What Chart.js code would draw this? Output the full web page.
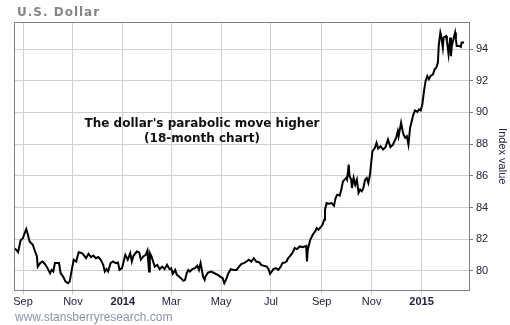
<!DOCTYPE html>
<html>
<head>
<meta charset="utf-8">
<script src="https://cdn.jsdelivr.net/npm/chart.js@4/dist/chart.umd.min.js"></script>
<style>
  html, body { margin: 0; padding: 0; background: #ffffff; }
  #wrap { width: 510px; height: 325px; position: relative; }
</style>
</head>
<body>
<div id="wrap"><canvas id="chart" width="510" height="325"></canvas></div>
<script>
// U.S. Dollar index, Aug 2013 - Feb 2015.
// Dates are stored as days counted from 1 Jan 2014.
const dayFromJan2014 = [
  -133, -131, -128, -125, -122, -120, -118, -116, -114, -110, -108, -105, -104, -101, -98, -95,
  -92, -89, -87, -85, -83, -78, -76, -73, -70, -67, -65, -62, -60, -57, -54, -50,
  -48, -45, -42, -39, -36, -33, -30, -27, -24, -22, -20, -18, -15, -12, -9, -6,
  -4, -1, 2, 3, 6, 9, 11, 13, 17, 20, 22, 25, 28, 30, 32, 33,
  35, 37, 39, 42, 45, 48, 51, 54, 57, 59, 61, 64, 66, 68, 71, 74,
  76, 78, 80, 82, 85, 88, 91, 93, 95, 98, 100, 101, 104, 108, 112, 116,
  119, 122, 124, 126, 129, 132, 135, 139, 142, 145, 148, 151, 154, 157, 160, 163,
  167, 169, 172, 176, 178, 180, 182, 184, 187, 190, 193, 195, 198, 200, 202, 204,
  207, 210, 213, 216, 220, 224, 225, 226, 229, 232, 235, 237, 239, 242, 244, 246,
  247, 249, 252, 255, 258, 260, 262, 265, 267, 269, 273, 274, 276, 277, 279, 280,
  282, 284, 286, 288, 290, 292, 294, 296, 298, 300, 302, 305, 308, 310, 312, 315,
  318, 321, 324, 327, 330, 334, 336, 337, 340, 342, 343, 345, 347, 349, 351, 353,
  355, 357, 360, 362, 364, 366, 368, 370, 372, 374, 376, 379, 381, 383, 385, 386,
  388, 389, 391, 392, 395, 396, 398, 400, 401, 402, 404, 406, 407, 408, 411, 413,
  414, 417
];

const indexValue = [
  81.44, 81.37, 81.18, 81.92, 82.07, 82.39, 82.64, 82.28, 81.85, 81.65, 81.33, 80.91, 80.27, 80.49, 80.59, 80.42,
  80.17, 79.85, 80.06, 79.96, 80.49, 80.49, 79.85, 79.64, 79.32, 79.22, 79.32, 80.17, 80.70, 80.59, 81.18, 81.12,
  81.01, 80.80, 81.08, 80.87, 80.97, 80.80, 80.87, 80.70, 80.38, 79.96, 80.11, 79.96, 80.49, 80.59, 80.49, 80.53,
  80.06, 80.17, 80.80, 81.01, 80.70, 81.12, 80.59, 80.95, 81.22, 81.16, 80.70, 80.91, 81.01, 81.27, 79.96, 81.12,
  80.91, 80.59, 80.27, 80.38, 80.11, 80.27, 80.11, 80.38, 80.11, 80.17, 79.81, 80.06, 79.75, 79.68, 79.54, 79.37,
  79.43, 79.85, 80.06, 79.96, 80.11, 80.17, 80.32, 80.06, 80.49, 79.64, 79.43, 79.64, 79.89, 79.96, 79.85, 79.75,
  79.64, 79.54, 79.22, 79.43, 79.85, 80.11, 80.06, 80.06, 80.27, 80.44, 80.49, 80.59, 80.70, 80.59, 80.80, 80.59,
  80.53, 80.38, 80.32, 80.27, 80.11, 79.81, 79.96, 80.11, 80.17, 80.06, 80.27, 80.49, 80.53, 80.59, 80.80, 80.91,
  81.12, 81.44, 81.37, 81.54, 81.50, 81.58, 80.59, 81.33, 81.96, 82.28, 82.49, 82.70, 82.59, 82.77, 82.91, 83.23,
  83.86, 84.28, 84.24, 84.28, 84.11, 84.60, 84.81, 84.75, 85.13, 85.65, 85.87, 85.76, 86.71, 85.97, 85.76, 85.23,
  85.87, 85.44, 85.76, 84.92, 85.13, 85.02, 85.23, 85.76, 85.87, 85.55, 86.08, 87.55, 87.77, 88.08, 87.72, 87.87,
  87.66, 87.81, 88.29, 87.81, 87.97, 88.40, 88.82, 88.50, 89.35, 88.82, 88.61, 88.40, 88.50, 87.97, 89.03, 89.45,
  89.87, 90.13, 90.04, 90.19, 90.13, 90.51, 91.35, 91.99, 92.30, 92.09, 92.30, 92.41, 92.72, 92.83, 93.15, 94.20,
  95.04, 94.83, 94.09, 94.73, 94.83, 94.51, 93.67, 94.73, 93.55, 94.20, 94.62, 95.04, 94.62, 94.20, 94.20, 94.14,
  94.41, 94.41
];

// Month ticks (first day of each month, days from 1 Jan 2014)
const monthTickDays = [-122, -61, 0, 59, 120, 181, 243, 304, 365];
const monthTickLabels = ['Sep', 'Nov', '2014', 'Mar', 'May', 'Jul', 'Sep', 'Nov', '2015'];
const yearLabels = ['2014', '2015'];

const valueTicks = [80, 82, 84, 86, 88, 90, 92, 94];

const chartTitle = 'U.S. Dollar';
const noteLines = ["The dollar's parabolic move higher", '(18-month chart)'];
const axisTitle = 'Index value';
const sourceText = 'www.stansberryresearch.com';

const points = dayFromJan2014.map((d, i) => ({ x: d, y: indexValue[i] }));

const labelColor = '#222240';
const gridColor = '#cfcfcf';
const frameColor = '#808080';

// Top/left frame lines, title, note and source line
const decorations = {
  id: 'decorations',
  afterDraw(chart) {
    const { ctx, chartArea } = chart;
    ctx.save();
    ctx.strokeStyle = frameColor;
    ctx.lineWidth = 1;
    ctx.beginPath();
    ctx.moveTo(chartArea.left + 0.5, chartArea.bottom);
    ctx.lineTo(chartArea.left + 0.5, chartArea.top + 0.5);
    ctx.lineTo(chartArea.right, chartArea.top + 0.5);
    ctx.stroke();

    ctx.fillStyle = '#858585';
    ctx.font = 'bold 12px "DejaVu Sans"';
    ctx.textAlign = 'left';
    ctx.textBaseline = 'alphabetic';
    ctx.letterSpacing = '1px';
    ctx.fillText(chartTitle, 17, 15.5);
    ctx.letterSpacing = '0px';

    ctx.fillStyle = '#111111';
    ctx.font = 'bold 12px "DejaVu Sans"';
    ctx.textAlign = 'center';
    ctx.fillText(noteLines[0], 202, 126.5);
    ctx.fillText(noteLines[1], 202, 142);

    ctx.fillStyle = '#8a94a6';
    ctx.font = '12px "Liberation Sans", Arial, sans-serif';
    ctx.textAlign = 'left';
    ctx.fillText(sourceText, 15, 320.5);
    ctx.restore();
  }
};

new Chart(document.getElementById('chart'), {
  type: 'line',
  data: {
    datasets: [{
      data: points,
      borderColor: '#000000',
      borderWidth: 2,
      pointRadius: 0,
      tension: 0,
      fill: false
    }]
  },
  options: {
    responsive: false,
    animation: false,
    devicePixelRatio: 1,
    layout: { padding: { left: 14, top: 22, right: 0, bottom: 0 } },
    plugins: {
      legend: { display: false },
      tooltip: { enabled: false },
      title: { display: false }
    },
    scales: {
      x: {
        type: 'linear',
        position: 'bottom',
        min: -133,
        max: 423,
        afterBuildTicks(scale) {
          scale.ticks = monthTickDays.map(v => ({ value: v }));
        },
        afterFit(scale) { scale.height = 34.5; },
        ticks: {
          autoSkip: false,
          maxRotation: 0,
          padding: 1,
          color: labelColor,
          font: (ctx) => ({
            family: '"Liberation Sans", Arial, sans-serif',
            size: 11,
            weight: (ctx.tick && yearLabels.includes(monthTickLabels[monthTickDays.indexOf(ctx.tick.value)])) ? 'bold' : 'normal'
          }),
          callback: (value) => {
            const i = monthTickDays.indexOf(value);
            return i >= 0 ? monthTickLabels[i] : '';
          }
        },
        grid: { color: gridColor, tickColor: gridColor, tickLength: 4, drawTicks: true },
        border: { color: frameColor, width: 1 }
      },
      y: {
        type: 'linear',
        position: 'right',
        min: 78.76,
        max: 95.71,
        afterBuildTicks(scale) {
          scale.ticks = valueTicks.map(v => ({ value: v }));
        },
        afterFit(scale) { scale.width = 41; },
        ticks: {
          padding: 3,
          color: labelColor,
          font: { family: '"Liberation Sans", Arial, sans-serif', size: 11 },
          callback: (value) => String(value)
        },
        grid: { color: gridColor, tickColor: frameColor, tickLength: 4, drawTicks: true },
        border: { color: frameColor, width: 1 },
        title: {
          display: true,
          text: axisTitle,
          color: labelColor,
          padding: { top: 1, bottom: 0 },
          font: { family: '"Liberation Sans", Arial, sans-serif', size: 11 }
        }
      }
    }
  },
  plugins: [decorations]
});
</script>
</body>
</html>
